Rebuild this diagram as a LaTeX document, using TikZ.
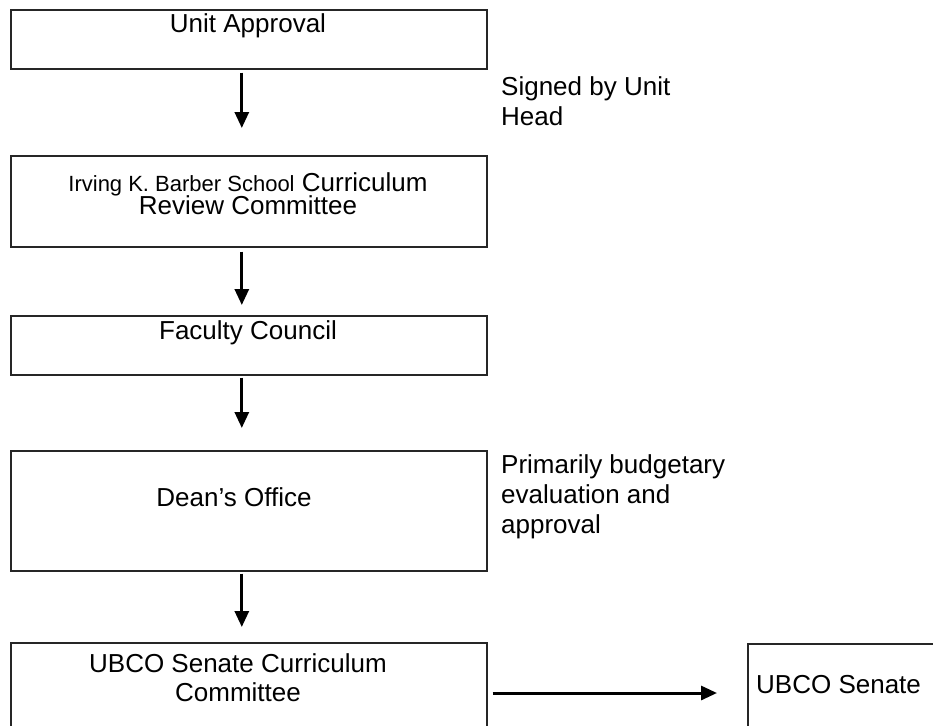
\documentclass[tikz,border=0pt]{standalone}
\usepackage{fontspec}
\setmainfont{Liberation Sans}
\usetikzlibrary{arrows.meta}
\tikzset{
  box/.style={draw=black!85, line width=1.6pt, inner sep=0pt, anchor=north west},
  lbl/.style={inner sep=0pt, font=\fontsize{26}{30}\selectfont},
  note/.style={inner sep=0pt, anchor=west, align=left, font=\fontsize{26}{30}\selectfont},
  arr/.style={line width=3pt, -{Triangle[length=16pt,width=14pt]}}
}
\begin{document}
\begin{tikzpicture}[x=1pt,y=-1pt]
\useasboundingbox (0,0) rectangle (933,725);
\clip (0,0) rectangle (933,725);
% boxes
\node[box, minimum width=476pt, minimum height=59pt] (b1) at (10,9) {};
\node[box, minimum width=476pt, minimum height=91pt] (b2) at (10,155) {};
\node[box, minimum width=476pt, minimum height=59pt] (b3) at (10,315) {};
\node[box, minimum width=476pt, minimum height=120pt] (b4) at (10,450) {};
\node[box, minimum width=476pt, minimum height=120pt] (b5) at (10,642) {};
\node[box, minimum width=240pt, minimum height=120pt] (b6) at (747,643) {};
% texts
\node[lbl] (t1) at (248,26) {Unit Approval};
\node[lbl, align=center] (t2) at (248,194) {{\fontsize{22}{22}\selectfont Irving K. Barber School} Curriculum\\[-7pt]Review Committee};
\node[lbl] (t3) at (248,333) {Faculty Council};
\node[lbl] (t4) at (234,497) {Dean’s Office};
\node[lbl, align=center] (t5) at (238,678) {UBCO Senate Curriculum\\[-1pt]Committee};
\node[lbl, anchor=west] (t6) at (756,685) {UBCO Senate};
\node[note] (n1) at (501,101) {Signed by Unit\\Head};
\node[note] (n2) at (501,497) {Primarily budgetary\\evaluation and\\approval};
% connectors
\coordinate (hy) at (0,693);
\draw[arr, shorten <=3pt, shorten >=27pt] ([xshift=-7pt]b1.south) -- ([xshift=-7pt]b2.north);
\draw[arr, shorten <=4pt, shorten >=10pt] ([xshift=-7pt]b2.south) -- ([xshift=-7pt]b3.north);
\draw[arr, shorten <=2pt, shorten >=22pt] ([xshift=-7pt]b3.south) -- ([xshift=-7pt]b4.north);
\draw[arr, shorten <=2pt, shorten >=15pt] ([xshift=-7pt]b4.south) -- ([xshift=-7pt]b5.north);
\draw[arr, shorten <=5pt, shorten >=30pt] (b5.east |- hy) -- (b6.west |- hy);
\end{tikzpicture}
\end{document}
